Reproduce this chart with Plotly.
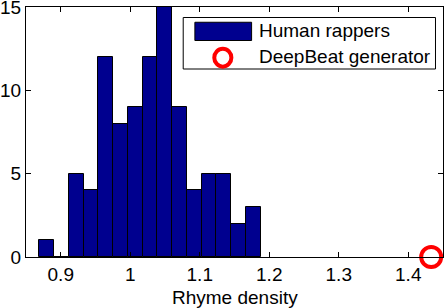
import plotly.graph_objects as go

# Histogram of rhyme density for human rappers (15 bins)
bin_start = 0.869
bin_width = 0.02125
counts = [1, 0, 5, 4, 12, 8, 9, 12, 15, 9, 4, 5, 5, 2, 3]
centers = [bin_start + bin_width * (i + 0.5) for i in range(len(counts))]

deepbeat_x = [1.433]
deepbeat_y = [0]

series_names = ["Human rappers", "DeepBeat generator"]
x_ticks = [0.9, 1.0, 1.1, 1.2, 1.3, 1.4]
x_tick_labels = ["0.9", "1", "1.1", "1.2", "1.3", "1.4"]
y_ticks = [0, 5, 10, 15]

BAR_COLOR = "#00008f"
RED = "#ff0000"
font = "Liberation Sans, Arial, sans-serif"

fig = go.Figure()
fig.add_trace(go.Bar(
    x=centers, y=counts, width=bin_width, name=series_names[0],
    marker=dict(color=BAR_COLOR, line=dict(color="black", width=1)),
    showlegend=False,
))
fig.add_trace(go.Scatter(
    x=deepbeat_x, y=deepbeat_y, mode="markers", name=series_names[1],
    marker=dict(symbol="circle-open", size=20, color=RED, line=dict(width=4, color=RED)),
    cliponaxis=False, showlegend=False,
))

# Legend drawn as box (paper coordinates), MATLAB style
legend_shapes = [
    dict(type="rect", xref="paper", yref="paper", x0=0.377, x1=0.982, y0=0.752, y1=0.958,
         line=dict(color="black", width=1), fillcolor="white", layer="above"),
    dict(type="rect", xref="paper", yref="paper", x0=0.405, x1=0.541, y0=0.866, y1=0.939,
         line=dict(color="black", width=1), fillcolor=BAR_COLOR, layer="above"),
    dict(type="circle", xref="paper", yref="paper", x0=0.4515, x1=0.4925, y0=0.7615, y1=0.8335,
         line=dict(color=RED, width=4), fillcolor="rgba(0,0,0,0)", layer="above"),
]
legend_annotations = [
    dict(text=series_names[0], xref="paper", yref="paper", x=0.554, y=0.904,
         xanchor="left", yanchor="middle", showarrow=False, font=dict(size=19)),
    dict(text=series_names[1], xref="paper", yref="paper", x=0.554, y=0.80,
         xanchor="left", yanchor="middle", showarrow=False, font=dict(size=19)),
    dict(text="Rhyme density", xref="paper", yref="paper", x=0.5, y=-0.16,
         xanchor="center", yanchor="middle", showarrow=False, font=dict(size=19)),
]

fig.update_layout(
    width=446, height=308,
    margin=dict(l=26, r=3, t=7, b=51),
    plot_bgcolor="white", paper_bgcolor="white",
    font=dict(family=font, size=19, color="black"),
    bargap=0,
    showlegend=False,
    shapes=legend_shapes,
    annotations=legend_annotations,
    xaxis=dict(
        range=[0.85, 1.45], tickvals=x_ticks, ticktext=x_tick_labels,
        ticks="inside", ticklen=5, tickcolor="black",
        showline=True, linecolor="black", linewidth=1, mirror="ticks",
        showgrid=False, zeroline=False, automargin=False,
        tickfont=dict(size=19), ticklabeloverflow="allow",
    ),
    yaxis=dict(
        range=[0, 15], tickvals=y_ticks,
        ticks="inside", ticklen=5, tickcolor="black",
        showline=True, linecolor="black", linewidth=1, mirror="ticks",
        showgrid=False, zeroline=False, automargin=False,
        tickfont=dict(size=19), ticklabeloverflow="allow",
    ),
)

fig.write_html("out.html", config={"displayModeBar": False},
               post_script="document.body.style.margin='0px';")
